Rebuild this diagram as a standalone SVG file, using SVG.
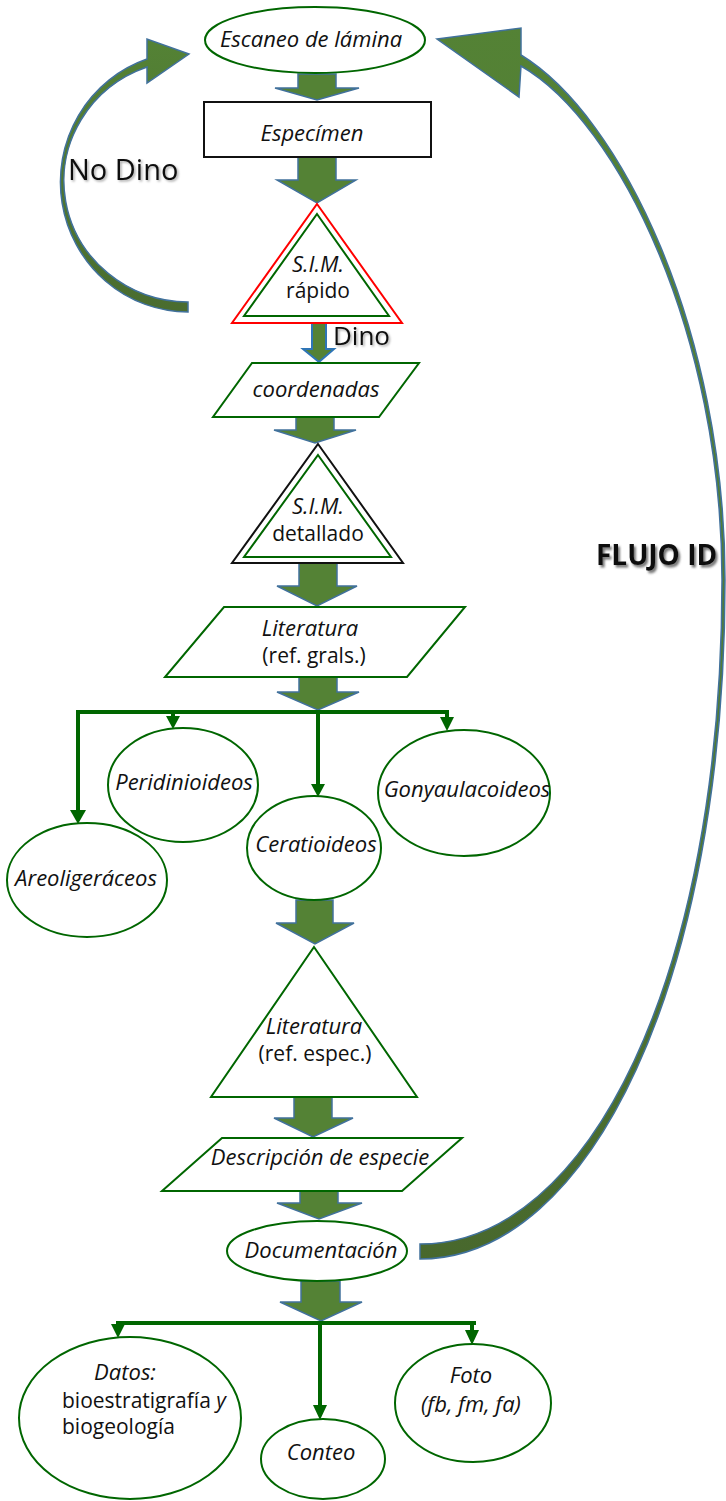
<svg xmlns="http://www.w3.org/2000/svg" width="726" height="1501" viewBox="0 0 726 1501">
<defs>
<style>
.t{font-family:"Open Sans","Liberation Sans",sans-serif;font-size:21px;fill:#111;text-anchor:middle}
.i{font-style:italic;font-size:22px}
.n{fill:#fff;stroke:#006600;stroke-width:2}
.fat{fill:#548235;stroke:#41719c;stroke-width:1.5;stroke-linejoin:miter}
.ln{fill:none;stroke:#006600;stroke-width:4}
.ah{fill:#006600}
.lbl{font-family:"Open Sans","Liberation Sans",sans-serif;fill:#111}
</style>
<filter id="sh" x="-10%" y="-20%" width="130%" height="150%">
<feDropShadow dx="1.5" dy="1.5" stdDeviation="0.8" flood-color="#000" flood-opacity="0.35"/>
</filter>
<filter id="sh2" x="-10%" y="-20%" width="130%" height="160%">
<feDropShadow dx="2" dy="2.5" stdDeviation="1.2" flood-color="#555" flood-opacity="0.8"/>
</filter>
<linearGradient id="gr" gradientUnits="userSpaceOnUse" x1="0" y1="0" x2="0" y2="1260">
<stop offset="0" stop-color="#548235"/><stop offset="0.6" stop-color="#507a33"/><stop offset="1" stop-color="#48682d"/>
</linearGradient>
<linearGradient id="gl" gradientUnits="userSpaceOnUse" x1="0" y1="40" x2="0" y2="312">
<stop offset="0" stop-color="#548235"/><stop offset="1" stop-color="#4a6c2f"/>
</linearGradient>
</defs>

<g id="connectors">
<!-- curved loop arrows -->
<path d="M188,312 A128,130 0 0 1 147,59 L147,39 L189,54 L147,83 L147,67 A125,121 0 0 0 188,302 Z" fill="url(#gl)" stroke="#41719c" stroke-width="1.5"/>
<path d="M420,1259 C590,1259 725,980 725,580 C725,330 621,116 521,55 L521,28 L437,39 L519,97 L521,66 C619,122 722,335 722,580 C722,978 588,1244 420,1244 Z" fill="url(#gr)" stroke="#41719c" stroke-width="1.5"/>
<!-- block arrows -->
<polygon class="fat" points="298,74 336,74 336,88 359,88 317,100 275,88 298,88"/>
<polygon class="fat" points="298,157 336,157 336,180 356,180 317,203 277,180 298,180"/>
<polygon points="312,323 326,323 326,349 334,349 319,362 303,349 312,349" fill="#548235" stroke="#2e75b6" stroke-width="2"/>
<polygon class="fat" points="296,417 334,417 334,430 356,430 315,443 274,430 296,430"/>
<polygon class="fat" points="299,563 337,563 337,586 357,586 317,606 277,586 299,586"/>
<polygon class="fat" points="299,677 337,677 337,692 359,692 318,710 277,692 299,692"/>
<polygon class="fat" points="296,900 333,900 333,923 354,923 315,944 276,923 296,923"/>
<polygon class="fat" points="294,1097 332,1097 332,1118 353,1118 313,1137 274,1118 294,1118"/>
<polygon class="fat" points="300,1191 338,1191 338,1203 362,1203 319,1219 277,1203 300,1203"/>
<polygon class="fat" points="301,1281 340,1281 340,1302 362,1302 321,1321 280,1302 301,1302"/>
<!-- branch 1 -->
<path class="ln" d="M78,812 V712 H449 M173,712 V718 M318,712 V786 M447,712 V720"/>
<polygon class="ah" points="70,810 86,810 78,824"/>
<polygon class="ah" points="166,716 180,716 173,729"/>
<polygon class="ah" points="311,784 325,784 318,797"/>
<polygon class="ah" points="440,717 454,717 447,731"/>
<!-- branch 2 -->
<path class="ln" d="M118,1326 V1323 H476 M320,1323 V1408 M472,1323 V1332"/>
<polygon class="ah" points="111,1324 125,1324 118,1338"/>
<polygon class="ah" points="313,1405 327,1405 320,1420"/>
<polygon class="ah" points="465,1330 479,1330 472,1345"/>
</g>

<text class="lbl" x="68" y="180" font-size="29" filter="url(#sh)">No Dino</text>
<text class="lbl" x="333" y="345" font-size="26" filter="url(#sh)">Dino</text>
<text class="lbl" x="596" y="565" font-size="28" font-weight="bold" fill="#1a1a1a" filter="url(#sh2)">FLUJO ID</text>

<g id="escaneo">
<ellipse class="n" cx="315" cy="40" rx="110" ry="33"/>
<text class="t i" x="311" y="47">Escaneo de lámina</text>
</g>
<g id="especimen">
<rect x="204" y="102" width="227" height="55" fill="#fff" stroke="#111" stroke-width="2"/>
<text class="t i" x="312" y="141">Especímen</text>
</g>
<g id="sim-rapido">
<polygon points="317,204 402,323 232,323" fill="#fff" stroke="#ff0000" stroke-width="2"/>
<polygon points="317,214 389,316 244,316" fill="none" stroke="#006600" stroke-width="2"/>
<text class="t i" x="318" y="272">S.I.M.</text>
<text class="t" x="318" y="298">rápido</text>
</g>
<g id="coordenadas">
<polygon class="n" points="252,363 419,363 379,417 213,417"/>
<text class="t i" x="316" y="397">coordenadas</text>
</g>
<g id="sim-detallado">
<polygon points="318,444 403,563 232,563" fill="#fff" stroke="#111" stroke-width="2"/>
<polygon points="318,455 391,557 244,557" fill="none" stroke="#006600" stroke-width="2"/>
<text class="t i" x="318" y="514">S.I.M.</text>
<text class="t" x="318" y="541">detallado</text>
</g>
<g id="literatura-grals">
<polygon class="n" points="224,607 465,607 407,677 165,677"/>
<text class="t i" x="310" y="636">Literatura</text>
<text class="t" x="314" y="663">(ref. grals.)</text>
</g>
<g id="areoligeraceos">
<ellipse class="n" cx="87" cy="880" rx="80" ry="57"/>
<text class="t i" x="86" y="886">Areoligeráceos</text>
</g>
<g id="peridinioideos">
<ellipse class="n" cx="183" cy="785" rx="75" ry="57"/>
<text class="t i" x="184" y="790">Peridinioideos</text>
</g>
<g id="ceratioideos">
<ellipse class="n" cx="314" cy="848" rx="67" ry="52"/>
<text class="t i" x="316" y="852">Ceratioideos</text>
</g>
<g id="gonyaulacoideos">
<ellipse class="n" cx="464" cy="793" rx="86" ry="63"/>
<text class="t i" x="467" y="797">Gonyaulacoideos</text>
</g>
<g id="literatura-espec">
<polygon class="n" points="314,947 417,1097 211,1097"/>
<text class="t i" x="314" y="1034">Literatura</text>
<text class="t" x="315" y="1061">(ref. espec.)</text>
</g>
<g id="descripcion">
<polygon class="n" points="222,1138 462,1138 402,1191 162,1191"/>
<text class="t i" x="320" y="1165">Descripción de especie</text>
</g>
<g id="documentacion">
<ellipse class="n" cx="317" cy="1251" rx="90" ry="30"/>
<text class="t i" x="321" y="1258">Documentación</text>
</g>
<g id="datos">
<ellipse class="n" cx="130" cy="1418" rx="111" ry="81"/>
<text class="t i" x="125" y="1380">Datos:</text>
<text class="t" x="62" y="1408" style="text-anchor:start">bioestratigrafía <tspan font-style="italic">y</tspan></text>
<text class="t" x="62" y="1434" style="text-anchor:start">biogeología</text>
</g>
<g id="conteo">
<ellipse class="n" cx="323" cy="1459" rx="62" ry="40"/>
<text class="t i" x="321" y="1460">Conteo</text>
</g>
<g id="foto">
<ellipse class="n" cx="473" cy="1403" rx="78" ry="59"/>
<text class="t i" x="471" y="1383">Foto</text>
<text class="t i" x="471" y="1412">(fb, fm, fa)</text>
</g>
</svg>
